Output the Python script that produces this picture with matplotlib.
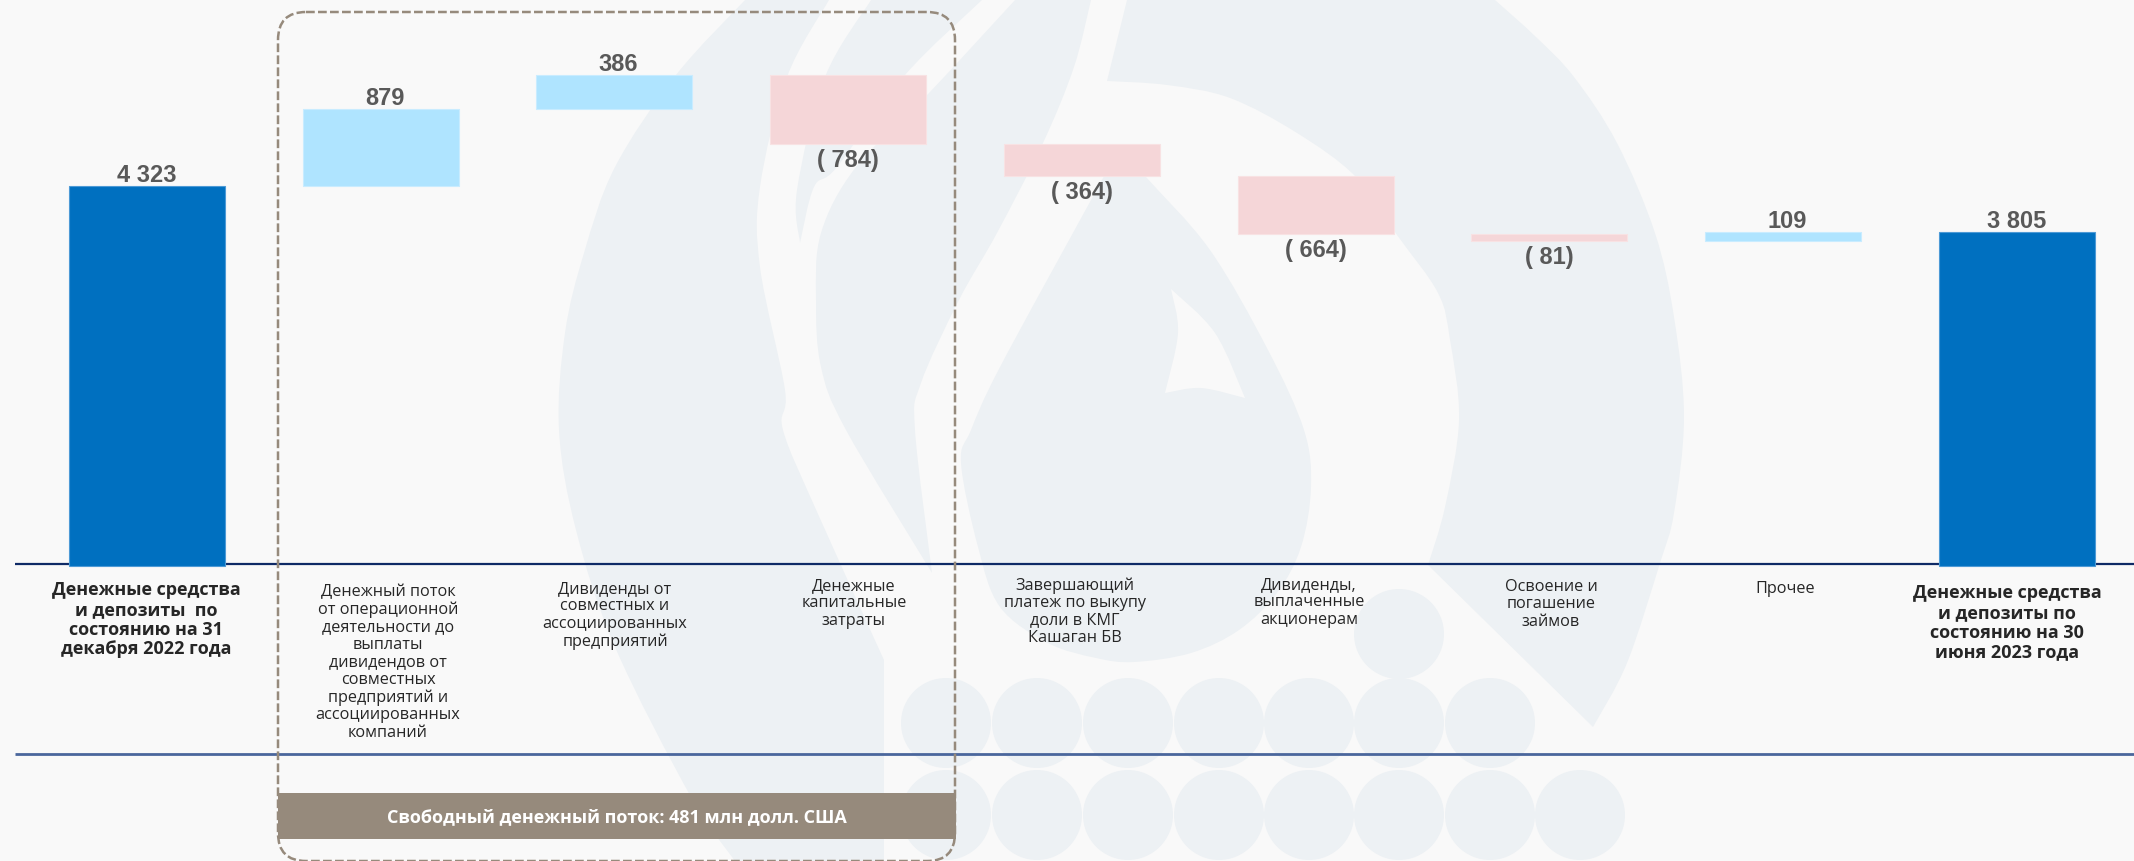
import matplotlib
matplotlib.use("Agg")
import matplotlib.pyplot as plt
from matplotlib.patches import Circle, FancyBboxPatch, PathPatch, Rectangle
from matplotlib.path import Path

W, H = 2134, 861

# =========================
# 0) data
# =========================
categories = [
    "Денежные средства\nи депозиты  по\nсостоянию на 31\nдекабря 2022 года",
    "Денежный поток\nот операционной\nдеятельности до\nвыплаты\nдивидендов от\nсовместных\nпредприятий и\nассоциированных\nкомпаний",
    "Дивиденды от\nсовместных и\nассоциированных\nпредприятий",
    "Денежные\nкапитальные\nзатраты",
    "Завершающий\nплатеж по выкупу\nдоли в КМГ\nКашаган БВ",
    "Дивиденды,\nвыплаченные\nакционерам",
    "Освоение и\nпогашение\nзаймов",
    "Прочее",
    "Денежные средства\nи депозиты по\nсостоянию на 30\nиюня 2023 года",
]
values = [4323, 879, 386, -784, -364, -664, -81, 109, 3805]
value_labels = ["4 323", "879", "386", "( 784)", "( 364)", "( 664)", "( 81)", "109", "3 805"]
banner_text = "Свободный денежный поток: 481 млн долл. США"

# =========================
# 1) layout (pixels of the picture)
# =========================
X0, STEP = 147.0, 233.7      # centre of first bar, bar spacing
Y0, PX_PER_UNIT = 566.0, 0.0879
BAR_W = 156 / STEP
label_dx = [0, 4, 4, 0, 0, 0, 0, 4, 0]
text_x = [146, 388, 615, 854, 1075, 1309, 1551, 1785, 2007]
text_top = [581, 584, 581, 578, 577, 577, 579, 581, 584]

BG = "#f9f9f9"
MARK = "#edf1f4"
TAUPE = "#968a7c"

# watermark outlines: each shape is a list of smooth runs joined at corners
SHAPE_A = [
    [(745, 0), (676, 75), (615, 167), (584, 253), (565, 333), (559, 430), (576, 530), (615, 647), (691, 797), (735, 861)],
    [(735, 861), (884, 861)],
    [(884, 861), (884, 660)],
    [(884, 660), (818, 514), (783, 430), (785, 390), (760, 267), (760, 187), (787, 77), (829, 0)],
    [(829, 0), (745, 0)],
]
SHAPE_BAND2 = [
    [(871, 0), (825, 77), (797, 190), (800, 243)],
    [(800, 243), (814, 187), (837, 167), (905, 75), (982, 0)],
    [(982, 0), (871, 0)],
]
SHAPE_BAND3 = [
    [(1015, 0), (929, 93), (856, 167), (821, 233), (816, 300), (821, 367), (846, 430), (932, 573)],
    [(932, 573), (915, 430), (921, 383), (959, 300), (997, 233), (1043, 143), (1074, 67), (1091, 0)],
    [(1091, 0), (1015, 0)],
]
SHAPE_DROP = [
    [(1120, 147), (1091, 200), (1000, 367), (971, 430), (961, 463), (978, 547), (1000, 607), (1048, 643), (1096, 658),
     (1134, 662), (1191, 653), (1239, 630), (1277, 593), (1301, 547), (1311, 487), (1304, 430), (1268, 350),
     (1210, 250), (1146, 177), (1120, 147)],
]
DROP_HOLE = [
    [(1171, 289), (1215, 333), (1245, 398)],
    [(1245, 398), (1201, 388), (1165, 393)],
    [(1165, 393), (1178, 333), (1171, 289)],
]
SHAPE_ARC = [
    [(1495, 0), (1536, 37), (1574, 77), (1617, 143), (1655, 233), (1674, 317), (1684, 417), (1674, 513), (1660, 563),
     (1627, 663), (1593, 727)],
    [(1593, 727), (1428, 565)],
    [(1428, 565), (1445, 507), (1459, 420), (1450, 340), (1438, 293), (1397, 235), (1356, 177), (1297, 133),
     (1230, 98), (1167, 85), (1107, 81)],
    [(1107, 81), (1127, 0)],
    [(1127, 0), (1495, 0)],
]
dot_rows = [
    (634, [1399]),
    (723, [946, 1037, 1128, 1219, 1309, 1399, 1490]),
    (815, [946, 1037, 1128, 1219, 1309, 1399, 1490, 1580]),
]


def smooth_path(runs):
    """Catmull-Rom runs -> one closed bezier path"""
    verts, codes = [runs[0][0]], [Path.MOVETO]
    for pts in runs:
        for i in range(len(pts) - 1):
            p0 = pts[max(i - 1, 0)]
            p1, p2 = pts[i], pts[i + 1]
            p3 = pts[min(i + 2, len(pts) - 1)]
            c1 = (p1[0] + (p2[0] - p0[0]) / 6, p1[1] + (p2[1] - p0[1]) / 6)
            c2 = (p2[0] - (p3[0] - p1[0]) / 6, p2[1] - (p3[1] - p1[1]) / 6)
            verts += [c1, c2, p2]
            codes += [Path.CURVE4] * 3
    verts.append(verts[0])
    codes.append(Path.CLOSEPOLY)
    return verts, codes


def draw_watermark(ax):
    for shape in (SHAPE_A, SHAPE_BAND2, SHAPE_BAND3, SHAPE_ARC):
        v, c = smooth_path(shape)
        ax.add_patch(PathPatch(Path(v, c), fc=MARK, ec="none"))
    v1, c1 = smooth_path(SHAPE_DROP)
    v2, c2 = smooth_path(DROP_HOLE)
    ax.add_patch(PathPatch(Path(v1 + v2, c1 + c2), fc=MARK, ec="none"))
    for cy, xs in dot_rows:
        for cx in xs:
            ax.add_patch(Circle((cx, cy), 45, fc=MARK, ec="none"))


# =========================
# 2) figure
# =========================
fig = plt.figure(figsize=(W / 100, H / 100), dpi=100, facecolor=BG)

# pixel layer below the bars
under = fig.add_axes([0, 0, 1, 1], zorder=0)
under.set_xlim(0, W)
under.set_ylim(H, 0)
under.axis("off")
draw_watermark(under)
under.plot([15, W], [564, 564], color="#0f2a66", lw=1.6, solid_capstyle="butt")
under.plot([15, W], [754, 754], color="#4a669c", lw=2.0, solid_capstyle="butt")

# chart layer: x = bar index, y = value
ax = fig.add_axes([0, 0, 1, 1], zorder=1)
ax.patch.set_alpha(0)
ax.set_xlim(-X0 / STEP, (W - X0) / STEP)
ax.set_ylim((Y0 - H) / PX_PER_UNIT, Y0 / PX_PER_UNIT)
ax.axis("off")

running = 0
for i, (val, lab) in enumerate(zip(values, value_labels)):
    total = i in (0, len(values) - 1)
    if total:
        bottom, height = 0, val
        face, edge = "#0070c0", "#4d9ad6"
        running = val
    else:
        bottom, height = (running, val) if val >= 0 else (running + val, -val)
        running += val
        face, edge = ("#afe4ff", "#c9ecff") if val >= 0 else ("#f5d6d8", "#f8e2e3")
    ax.bar(i, height, bottom=bottom, width=BAR_W, color=face, edgecolor=edge, linewidth=0.8)

    if val >= 0:
        ypos, dy, va = bottom + height, -1, "bottom"
    else:
        ypos, dy, va = bottom, -5, "top"
    ax.annotate(lab, (i, ypos), xytext=(label_dx[i], dy), textcoords="offset pixels",
                ha="center", va=va, fontsize=17, fontweight="bold",
                family="Liberation Sans", color="#595959")

# pixel layer above the bars
over = fig.add_axes([0, 0, 1, 1], zorder=2)
over.patch.set_alpha(0)
over.set_xlim(0, W)
over.set_ylim(H, 0)
over.axis("off")

over.add_patch(FancyBboxPatch((278 + 28, 12 + 28), 955 - 278 - 56, 861 - 12 - 56,
                              boxstyle="round,pad=28,rounding_size=28", fc="none",
                              ec=TAUPE, lw=1.8, ls=(0, (3.5, 1.3))))
over.add_patch(Rectangle((278, 793), 678, 46, fc=TAUPE, ec="none"))
over.text(617, 817, banner_text, ha="center", va="center", color="white",
          fontsize=13, fontweight="bold", family="Open Sans")

for i, name in enumerate(categories):
    total = i in (0, len(categories) - 1)
    over.text(text_x[i], text_top[i], name, ha="center", va="top", multialignment="center",
              family="Open Sans", fontsize=13 if total else 11.7,
              fontweight="bold" if total else "normal",
              color="#262626", linespacing=1.13 if total else 1.12)

fig.savefig("out.png", dpi=100, facecolor=BG)
